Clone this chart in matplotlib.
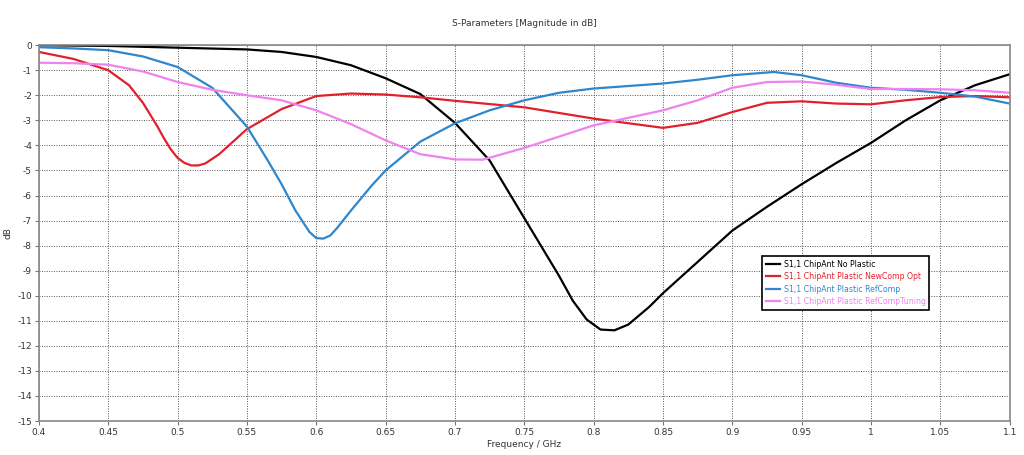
import numpy as np
import matplotlib.pyplot as plt

plt.rcParams['axes.unicode_minus'] = False

# S1,1 ChipAnt No Plastic
f_black = [0.40, 0.45, 0.50, 0.55, 0.575, 0.60, 0.625, 0.65, 0.675, 0.70, 0.725, 0.75,
           0.775, 0.785, 0.795, 0.805, 0.815, 0.825, 0.84, 0.85, 0.875, 0.90, 0.925, 0.95, 0.975,
           1.00, 1.025, 1.05, 1.075, 1.10]
s_black = [0.0, -0.03, -0.1, -0.17, -0.27, -0.47, -0.8, -1.32, -1.95, -3.1, -4.6, -6.9,
           -9.2, -10.2, -10.95, -11.35, -11.38, -11.15, -10.45, -9.9, -8.65, -7.4, -6.45, -5.55, -4.7,
           -3.9, -3.0, -2.2, -1.6, -1.16]

# S1,1 ChipAnt Plastic NewComp Opt
f_red = [0.40, 0.425, 0.45, 0.465, 0.475, 0.485, 0.49, 0.495, 0.50, 0.505, 0.51, 0.515, 0.52,
         0.53, 0.55, 0.575, 0.60, 0.625, 0.65, 0.675, 0.70, 0.75, 0.80, 0.85, 0.875, 0.90,
         0.925, 0.95, 0.975, 1.00, 1.025, 1.05, 1.075, 1.10]
s_red = [-0.27, -0.55, -1.0, -1.6, -2.3, -3.2, -3.7, -4.15, -4.5, -4.7, -4.8, -4.8, -4.72,
         -4.35, -3.35, -2.55, -2.03, -1.93, -1.97, -2.08, -2.22, -2.48, -2.93, -3.3, -3.1, -2.67,
         -2.3, -2.24, -2.33, -2.36, -2.2, -2.07, -2.03, -2.08]

# S1,1 ChipAnt Plastic RefComp
f_blue = [0.40, 0.425, 0.45, 0.475, 0.50, 0.525, 0.55, 0.565, 0.575, 0.585, 0.595, 0.60,
          0.605, 0.61, 0.615, 0.625, 0.64, 0.65, 0.675, 0.70, 0.725, 0.75, 0.775, 0.80, 0.85,
          0.875, 0.90, 0.93, 0.95, 0.975, 1.00, 1.025, 1.05, 1.075, 1.10]
s_blue = [-0.08, -0.13, -0.2, -0.45, -0.87, -1.7, -3.25, -4.6, -5.55, -6.6, -7.45, -7.7,
          -7.72, -7.6, -7.3, -6.6, -5.6, -5.0, -3.85, -3.12, -2.6, -2.2, -1.9, -1.73, -1.53,
          -1.38, -1.2, -1.07, -1.2, -1.5, -1.7, -1.78, -1.9, -2.05, -2.33]

# S1,1 ChipAnt Plastic RefCompTuning
f_pink = [0.40, 0.425, 0.45, 0.475, 0.50, 0.525, 0.55, 0.575, 0.60, 0.625, 0.65, 0.675,
          0.70, 0.72, 0.75, 0.775, 0.80, 0.825, 0.85, 0.875, 0.90, 0.925, 0.95, 0.975,
          1.00, 1.025, 1.05, 1.075, 1.10]
s_pink = [-0.7, -0.72, -0.78, -1.05, -1.47, -1.78, -2.0, -2.2, -2.6, -3.15, -3.8, -4.35,
          -4.56, -4.57, -4.1, -3.65, -3.2, -2.9, -2.6, -2.2, -1.7, -1.47, -1.45, -1.58,
          -1.75, -1.75, -1.76, -1.8, -1.9]

labels = ["S1,1 ChipAnt No Plastic", "S1,1 ChipAnt Plastic NewComp Opt",
          "S1,1 ChipAnt Plastic RefComp", "S1,1 ChipAnt Plastic RefCompTuning"]
colors = ["black", "#e2202c", "#2e86cc", "#ee82ee"]

fig = plt.figure(figsize=(10.24, 4.55), dpi=100)
ax = fig.add_axes([0.038, 0.0747, 0.948, 0.826])

series = [(f_black, s_black), (f_red, s_red), (f_blue, s_blue), (f_pink, s_pink)]
for (f, s), lab, c in zip(series, labels, colors):
    ax.plot(f, s, color=c, lw=1.6, label=lab, solid_joinstyle='round')

ax.set_xlim(0.4, 1.1)
ax.set_ylim(-15, 0)
ax.set_xticks(np.arange(0.4, 1.1001, 0.05))
ax.set_xticklabels(["0.4", "0.45", "0.5", "0.55", "0.6", "0.65", "0.7", "0.75",
                    "0.8", "0.85", "0.9", "0.95", "1", "1.05", "1.1"])
ax.set_yticks(np.arange(-15, 1, 1))
ax.tick_params(labelsize=6.5, length=3, color='#777777', colors='#333333', pad=2)
ax.grid(True, linestyle=(0, (1, 1.5)), color='#555555', lw=0.7)
for sp in ax.spines.values():
    sp.set_color('#888888')
    sp.set_linewidth(1.2)

ax.set_title("S-Parameters [Magnitude in dB]", fontsize=6.5, color='#333333', pad=14)
ax.set_xlabel("Frequency / GHz", fontsize=6.5, color='#333333', labelpad=2)
ax.set_ylabel("dB", fontsize=6.5, color='#333333')
ax.yaxis.set_label_coords(-0.027, 0.5)

leg = ax.legend(loc='upper left', bbox_to_anchor=(0.745, 0.439), fontsize=5.6,
                fancybox=False, framealpha=1, edgecolor='black', handlelength=1.8,
                handletextpad=0.5, borderpad=0.45, labelspacing=0.45, borderaxespad=0)
leg.get_frame().set_linewidth(1.2)
for txt, c in zip(leg.get_texts(), colors):
    txt.set_color(c)

fig.savefig("out.png", dpi=100)
